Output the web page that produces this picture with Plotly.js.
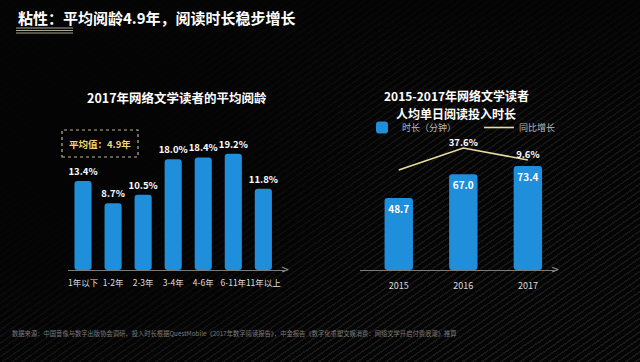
<!DOCTYPE html>
<html>
<head>
<meta charset="utf-8">
<script src="https://cdn.plot.ly/plotly-3.0.1.min.js"></script>
<style>
  html, body { margin:0; padding:0; width:640px; height:362px; overflow:hidden; }
  body {
    background-color:#050505;
    background-image:
      radial-gradient(ellipse 55% 70% at 12% 45%, rgba(4,4,4,1) 0%, rgba(4,4,4,0.85) 45%, rgba(4,4,4,0) 100%),
      linear-gradient(to bottom, rgba(4,4,4,0.9) 0%, rgba(4,4,4,0.2) 40%, rgba(4,4,4,0) 100%),
      repeating-linear-gradient(145deg, rgba(255,255,255,0.08) 0px, rgba(255,255,255,0.08) 1.6px, rgba(0,0,0,0) 1.6px, rgba(0,0,0,0) 5.5px);
  }
  #chart { width:640px; height:362px; }
</style>
</head>
<body>
<div id="chart"></div>
<script>
// ---- data ----
const ageCats = ['1年以下', '1-2年', '2-3年', '3-4年', '4-6年', '6-11年', '11年以上'];
const ageShare = [13.4, 8.7, 10.5, 18.0, 18.4, 19.2, 11.8];
const years = ['2015', '2016', '2017'];
const minutes = [48.7, 67.0, 73.4];
const growth = [-13.7, 37.6, 9.6];
const growthLabels = ['', '37.6%', '9.6%'];
const mainTitle = '粘性：平均阅龄4.9年，阅读时长稳步增长';
const leftTitle = '2017年网络文学读者的平均阅龄';
const rightTitle1 = '2015-2017年网络文学读者';
const rightTitle2 = '人均单日阅读投入时长';
const avgNote = '平均值：4.9年';
const footNote = '数据来源：中国音像与数字出版协会调研，投入时长根据QuestMobile《2017年数字阅读报告》，中金报告《数字化重塑文娱消费：网络文学开启付费浪潮》推算';

// ---- layout helpers ----
const W = 640, H = 362;
const px = x => x / W;
const py = y => 1 - y / H;
const FONT = '"Noto Sans CJK SC", "Noto Sans", sans-serif';
const BLUE = '#1f8edb';

const leftBase = -5.4;
const rightBase = -6.9;

const traces = [
  {
    type: 'bar', x: ageCats, y: ageShare.map(v => v - leftBase), base: leftBase,
    xaxis: 'x', yaxis: 'y', width: 0.57,
    marker: { color: BLUE },
    text: ageShare.map(v => v.toFixed(1) + '%'),
    textposition: 'outside', cliponaxis: false, constraintext: 'none',
    textfont: { color: '#ffffff', size: 9.5, family: FONT, weight: 'bold' },
    showlegend: false, hoverinfo: 'skip'
  },
  {
    type: 'bar', x: years, y: minutes.map(v => v - rightBase), base: rightBase,
    xaxis: 'x2', yaxis: 'y2', width: 0.44, name: '时长（分钟）',
    marker: { color: BLUE },
    text: minutes.map(v => v.toFixed(1)),
    textposition: 'inside', insidetextanchor: 'end', textangle: 0,
    constraintext: 'none',
    textfont: { color: '#ffffff', size: 10, family: FONT, weight: 'bold' },
    hoverinfo: 'skip'
  },
  {
    type: 'scatter', mode: 'lines+text', x: years, y: growth,
    xaxis: 'x2', yaxis: 'y3', name: '同比增长',
    line: { color: '#e9dc9c', width: 1.6 },
    text: growthLabels, textposition: 'top center', cliponaxis: false,
    textfont: { color: '#ffffff', size: 9.5, family: FONT, weight: 'bold' },
    hoverinfo: 'skip'
  }
];

const axisCommon = {
  showgrid: false, zeroline: false, showline: true, linecolor: '#7a7a7a', linewidth: 1,
  ticks: '', tickangle: 0, automargin: false, ticklabelstandoff: 5,
  tickfont: { color: '#dddddd', size: 8.5, family: FONT }, fixedrange: true
};

const layout = {
  width: W, height: H,
  margin: { l: 0, r: 0, t: 0, b: 0, autoexpand: false },
  paper_bgcolor: 'rgba(0,0,0,0)', plot_bgcolor: 'rgba(0,0,0,0)',
  font: { family: FONT, color: '#ffffff' },
  barcornerradius: 3,
  xaxis: Object.assign({}, axisCommon, { domain: [px(68), px(285)], range: [-0.5, 6.72], type: 'category', anchor: 'y' }),
  yaxis: { domain: [py(270), py(130)], range: [leftBase, 24.2], visible: false, fixedrange: true, anchor: 'x' },
  xaxis2: Object.assign({}, axisCommon, { domain: [px(360), px(555)], range: [-0.6, 2.42], type: 'category', anchor: 'y2',
    ticklabelstandoff: 7, tickfont: { color: '#dddddd', size: 9, family: FONT } }),
  yaxis2: { domain: [py(270), py(130)], range: [rightBase, 101.1], visible: false, fixedrange: true, anchor: 'x2' },
  yaxis3: { overlaying: 'y2', range: [-247.1, 79.6], visible: false, fixedrange: true, anchor: 'x2' },
  showlegend: true,
  legend: {
    orientation: 'h', x: px(362), y: py(127.5), xanchor: 'left', yanchor: 'middle',
    bgcolor: 'rgba(0,0,0,0)', font: { color: '#bbbbbb', size: 9, family: FONT },
    entrywidth: 72, entrywidthmode: 'pixels', itemwidth: 30, traceorder: 'normal'
  },
  shapes: [
    { type: 'line', xref: 'paper', yref: 'paper', x0: px(16), x1: px(73), y0: py(28), y1: py(28), line: { color: '#a9a392', width: 1 } },
    { type: 'line', xref: 'paper', yref: 'paper', x0: px(16), x1: px(73), y0: py(30.5), y1: py(30.5), line: { color: '#a9a392', width: 1 } },
    { type: 'line', xref: 'paper', yref: 'paper', x0: px(16), x1: px(73), y0: py(33), y1: py(33), line: { color: '#a9a392', width: 1 } },
    { type: 'rect', xref: 'paper', yref: 'paper', x0: px(62), x1: px(138), y0: py(157), y1: py(130), line: { color: '#bdb59c', width: 1.2, dash: 'dot' } }
  ],
  annotations: [
    { xref: 'paper', yref: 'paper', x: px(16), y: py(17), xanchor: 'left', yanchor: 'middle', showarrow: false,
      text: '<b>' + mainTitle + '</b>', font: { size: 15, color: '#ffffff', family: FONT } },
    { xref: 'paper', yref: 'paper', x: px(177), y: py(98), xanchor: 'center', yanchor: 'middle', showarrow: false,
      text: '<b>' + leftTitle + '</b>', font: { size: 12.5, color: '#ffffff', family: FONT } },
    { xref: 'paper', yref: 'paper', x: px(456), y: py(95), xanchor: 'center', yanchor: 'middle', showarrow: false,
      borderpad: 0, text: '<b>' + rightTitle1 + '</b>', font: { size: 12, color: '#ffffff', family: FONT } },
    { xref: 'paper', yref: 'paper', x: px(456), y: py(113), xanchor: 'center', yanchor: 'middle', showarrow: false,
      borderpad: 0, text: '<b>' + rightTitle2 + '</b>', font: { size: 12, color: '#ffffff', family: FONT } },
    { xref: 'paper', yref: 'paper', x: px(100), y: py(143.5), xanchor: 'center', yanchor: 'middle', showarrow: false,
      text: '<b>' + avgNote + '</b>', font: { size: 9.5, color: '#f2d77a', family: FONT } },
    { xref: 'paper', yref: 'paper', x: px(285), y: py(269), xanchor: 'center', yanchor: 'middle', showarrow: false,
      text: '>', font: { size: 10, color: '#9a9a9a', family: 'DejaVu Sans' } },
    { xref: 'paper', yref: 'paper', x: px(555), y: py(269), xanchor: 'center', yanchor: 'middle', showarrow: false,
      text: '>', font: { size: 10, color: '#9a9a9a', family: 'DejaVu Sans' } },
    { xref: 'paper', yref: 'paper', x: px(10), y: py(333), xanchor: 'left', yanchor: 'middle', showarrow: false,
      text: footNote, font: { size: 6.3, color: '#7a7a7a', family: FONT } }
  ]
};

Plotly.newPlot('chart', traces, layout, { staticPlot: true, displayModeBar: false });
</script>
</body>
</html>
